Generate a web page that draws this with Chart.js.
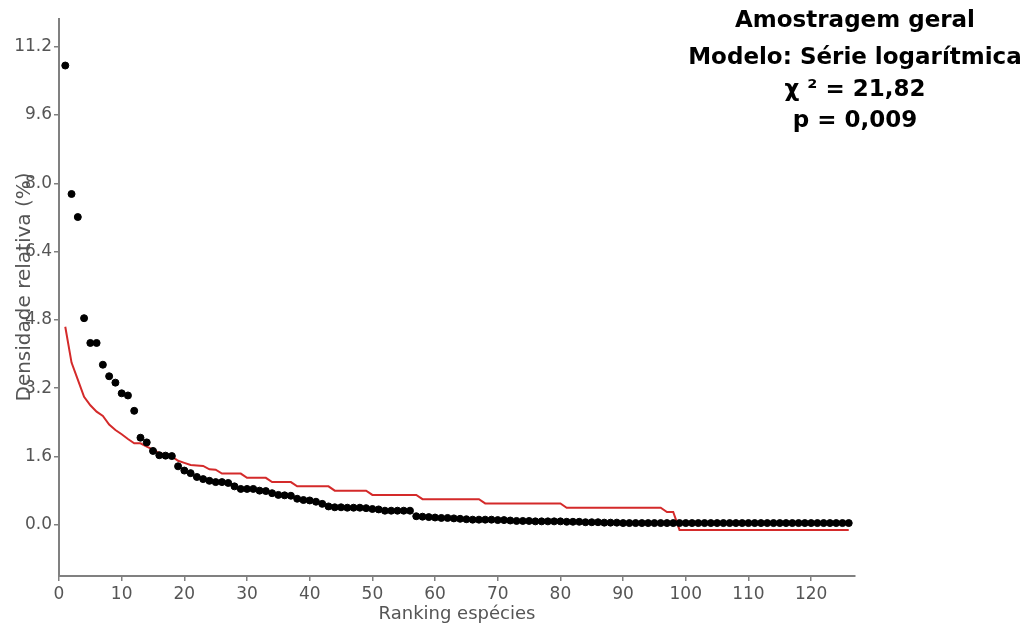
<!DOCTYPE html>
<html>
<head>
<meta charset="utf-8">
<script src="https://cdn.jsdelivr.net/npm/chart.js@4"></script>
<style>
  html, body { margin: 0; padding: 0; background: #fff; }
  #wrap { width: 1029px; height: 628px; }
</style>
</head>
<body>
<div id="wrap"><canvas id="rankChart"></canvas></div>
<script>
/* global Chart:false */

// observed relative density (%) by species rank, 1..126
var observed = [
  10.76, 7.75, 7.21, 4.84, 4.26, 4.26, 3.75, 3.48, 3.33, 3.08,
  3.03, 2.67, 2.04, 1.93, 1.73, 1.63, 1.62, 1.61, 1.37, 1.27,
  1.21, 1.12, 1.07, 1.03, 1.00, 1.00, 0.98, 0.90, 0.84, 0.84,
  0.84, 0.80, 0.79, 0.74, 0.70, 0.69, 0.68, 0.61, 0.58, 0.57,
  0.54, 0.49, 0.43, 0.41, 0.41, 0.40, 0.40, 0.40, 0.39, 0.37,
  0.36, 0.33, 0.33, 0.33, 0.33, 0.33, 0.20, 0.19, 0.18, 0.17,
  0.16, 0.16, 0.15, 0.14, 0.13, 0.12, 0.12, 0.12, 0.12, 0.11,
  0.11, 0.10, 0.09, 0.09, 0.09, 0.08, 0.08, 0.08, 0.08, 0.08,
  0.07, 0.07, 0.07, 0.06, 0.06, 0.06, 0.05, 0.05, 0.05, 0.04,
  0.04, 0.04, 0.04, 0.04, 0.04, 0.04, 0.04, 0.04, 0.04, 0.04,
  0.04, 0.04, 0.04, 0.04, 0.04, 0.04, 0.04, 0.04, 0.04, 0.04,
  0.04, 0.04, 0.04, 0.04, 0.04, 0.04, 0.04, 0.04, 0.04, 0.04,
  0.04, 0.04, 0.04, 0.04, 0.04, 0.04
];

// expected values, log-series model
var expected = [
  4.64, 3.80, 3.40, 3.00, 2.80, 2.65, 2.55, 2.35, 2.22, 2.12,
  2.01, 1.91, 1.91, 1.83, 1.76, 1.68, 1.64, 1.60, 1.50, 1.45,
  1.40, 1.39, 1.38, 1.30, 1.29, 1.20, 1.20, 1.20, 1.20, 1.10,
  1.10, 1.10, 1.10, 1.00, 1.00, 1.00, 1.00, 0.90, 0.90, 0.90,
  0.90, 0.90, 0.90, 0.80, 0.80, 0.80, 0.80, 0.80, 0.80, 0.70,
  0.70, 0.70, 0.70, 0.70, 0.70, 0.70, 0.70, 0.60, 0.60, 0.60,
  0.60, 0.60, 0.60, 0.60, 0.60, 0.60, 0.60, 0.50, 0.50, 0.50,
  0.50, 0.50, 0.50, 0.50, 0.50, 0.50, 0.50, 0.50, 0.50, 0.50,
  0.40, 0.40, 0.40, 0.40, 0.40, 0.40, 0.40, 0.40, 0.40, 0.40,
  0.40, 0.40, 0.40, 0.40, 0.40, 0.40, 0.30, 0.30, -0.12, -0.12,
  -0.12, -0.12, -0.12, -0.12, -0.12, -0.12, -0.12, -0.12, -0.12, -0.12,
  -0.12, -0.12, -0.12, -0.12, -0.12, -0.12, -0.12, -0.12, -0.12, -0.12,
  -0.12, -0.12, -0.12, -0.12, -0.12, -0.12
];

var xTicks = [0, 10, 20, 30, 40, 50, 60, 70, 80, 90, 100, 110, 120];
var yTicks = [0, 1.6, 3.2, 4.8, 6.4, 8.0, 9.6, 11.2];
var titleLines = ["Amostragem geral", "Modelo: Série logarítmica", "χ ² = 21,82", "p = 0,009"];
var xTitle = "Ranking espécies";
var yTitle = "Densidade relativa (%)";

var axisColor = "#808080";
var textColor = "#555555";
var fontFamily = "'DejaVu Sans', sans-serif";

function toPoints(values) {
  return values.map(function (v, i) {
    return { x: i + 1, y: v };
  });
}

function fixedTicks(list) {
  return function (scale) {
    scale.ticks = list.map(function (v) {
      return { value: v };
    });
  };
}

// draws the stats block and the y title over the plot, like the original
var overlayText = {
  id: "overlayText",
  afterDraw: function (chart) {
    var ctx = chart.ctx;
    var area = chart.chartArea;
    ctx.save();
    ctx.fillStyle = "#000";
    ctx.textAlign = "center";
    ctx.textBaseline = "middle";
    ctx.font = "bold 23px " + fontFamily;
    var ys = [21, 58, 90, 121];
    titleLines.forEach(function (line, i) {
      ctx.fillText(line, area.right, ys[i]);
    });

    ctx.fillStyle = textColor;
    ctx.font = "20px " + fontFamily;
    ctx.translate(25, 287);
    ctx.rotate(-Math.PI / 2);
    ctx.fillText(yTitle, 0, 0);
    ctx.restore();
  },
};

var chartElement = document.getElementById("rankChart");
var rankChart = new Chart(chartElement.getContext("2d"), {
  type: "scatter",
  data: {
    datasets: [
      {
        label: "Observado",
        data: toPoints(observed),
        backgroundColor: "#000",
        borderColor: "#000",
        pointRadius: 3.5,
        pointHoverRadius: 3.5,
        order: 1,
      },
      {
        type: "line",
        label: "Série logarítmica",
        data: toPoints(expected),
        borderColor: "#d42a2a",
        backgroundColor: "#d42a2a",
        borderWidth: 2,
        pointRadius: 0,
        tension: 0,
        fill: false,
        order: 2,
      },
    ],
  },
  options: {
    responsive: true,
    maintainAspectRatio: false,
    animation: false,
    layout: {
      padding: { left: 0, right: 174, top: 19, bottom: 0 },
    },
    plugins: {
      legend: { display: false },
      tooltip: { enabled: false },
    },
    scales: {
      x: {
        type: "linear",
        position: "bottom",
        min: 0,
        max: 127,
        afterFit: function (scale) {
          scale.height = 52;
        },
        afterBuildTicks: fixedTicks(xTicks),
        border: { color: axisColor, width: 2 },
        grid: { drawOnChartArea: false, drawTicks: true, tickLength: 5, color: axisColor, lineWidth: 1.5 },
        ticks: {
          autoSkip: false,
          maxRotation: 0,
          padding: 3,
          color: textColor,
          font: { family: fontFamily, size: 17 },
        },
        title: {
          display: true,
          text: xTitle,
          color: textColor,
          font: { family: fontFamily, size: 18 },
          padding: { top: 0, bottom: 3 },
        },
      },
      y: {
        type: "linear",
        min: -1.2,
        max: 11.85,
        afterFit: function (scale) {
          scale.width = 59;
        },
        afterBuildTicks: fixedTicks(yTicks),
        border: { color: axisColor, width: 2 },
        grid: { drawOnChartArea: false, drawTicks: true, tickLength: 5, color: axisColor, lineWidth: 1.5 },
        ticks: {
          padding: 2,
          color: textColor,
          font: { family: fontFamily, size: 17 },
          callback: function (value) {
            return Number(value).toFixed(1);
          },
        },
      },
    },
  },
  plugins: [overlayText],
});
</script>
</body>
</html>
